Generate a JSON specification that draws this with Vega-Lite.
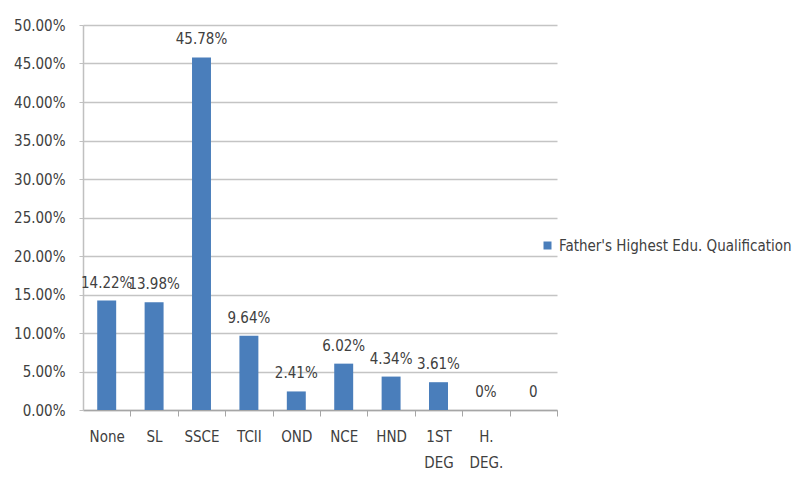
{
  "$schema": "https://vega.github.io/schema/vega-lite/v6.json",
  "width": 474,
  "height": 385,
  "autosize": {"type": "none"},
  "padding": {"left": 83, "top": 25, "right": 247, "bottom": 74},
  "background": "white",
  "config": {
    "font": "Liberation Sans Narrow, DejaVu Sans Condensed, sans-serif",
    "view": {"stroke": null}
  },
  "data": {
    "values": [
      {"qualification": "None", "pct": 14.22, "label": "14.22%"},
      {"qualification": "SL", "pct": 13.98, "label": "13.98%"},
      {"qualification": "SSCE", "pct": 45.78, "label": "45.78%"},
      {"qualification": "TCII", "pct": 9.64, "label": "9.64%"},
      {"qualification": "OND", "pct": 2.41, "label": "2.41%"},
      {"qualification": "NCE", "pct": 6.02, "label": "6.02%"},
      {"qualification": "HND", "pct": 4.34, "label": "4.34%"},
      {"qualification": "1ST DEG", "pct": 3.61, "label": "3.61%"},
      {"qualification": "H. DEG.", "pct": 0, "label": "0%"},
      {"qualification": " ", "pct": 0, "label": "0"}
    ]
  },
  "encoding": {
    "x": {
      "field": "qualification",
      "type": "nominal",
      "sort": null,
      "scale": {"paddingInner": 0.6, "paddingOuter": 0.3},
      "axis": {
        "title": null,
        "labelAngle": 0,
        "tickOffset": 23.7,
        "labelOffset": -23.7,
        "tickSize": 6,
        "tickColor": "#a6a6a6",
        "domainColor": "#a6a6a6",
        "domainWidth": 1.5,
        "labelPadding": 13,
        "labelBaseline": "top",
        "labelLineHeight": 26,
        "labelFontSize": 15,
        "labelColor": "#404040",
        "labelOverlap": false,
        "labelBound": false,
        "labelExpr": "indexof(datum.value, ' ') > 0 ? split(datum.value, ' ') : datum.value"
      }
    },
    "y": {
      "field": "pct",
      "type": "quantitative",
      "scale": {"domain": [0, 50], "nice": false},
      "axis": {
        "title": null,
        "values": [0, 5, 10, 15, 20, 25, 30, 35, 40, 45, 50],
        "labelExpr": "format(datum.value, '.2f') + '%'",
        "labelFontSize": 15,
        "labelColor": "#404040",
        "labelPadding": 14,
        "tickSize": 4,
        "tickColor": "#c0c0c0",
        "domainColor": "#c0c0c0",
        "domainWidth": 1.5,
        "gridColor": "#c4c4c4",
        "gridWidth": 1.5
      }
    }
  },
  "layer": [
    {
      "mark": {"type": "bar", "color": "#4a7ebb"},
      "encoding": {
        "color": {
          "datum": "Father's Highest Edu. Qualification",
          "scale": {"range": ["#4a7ebb"]},
          "legend": {
            "title": null,
            "orient": "none",
            "legendX": 457,
            "legendY": 213,
            "symbolType": "square",
            "symbolSize": 64,
            "symbolStrokeWidth": 0,
            "labelFontSize": 15,
            "labelLimit": 320,
            "labelColor": "#404040",
            "labelOffset": 4
          }
        }
      }
    },
    {
      "mark": {
        "type": "text",
        "baseline": "alphabetic",
        "dy": -13,
        "fontSize": 15,
        "color": "#404040"
      },
      "encoding": {
        "text": {"field": "label"}
      }
    }
  ]
}
